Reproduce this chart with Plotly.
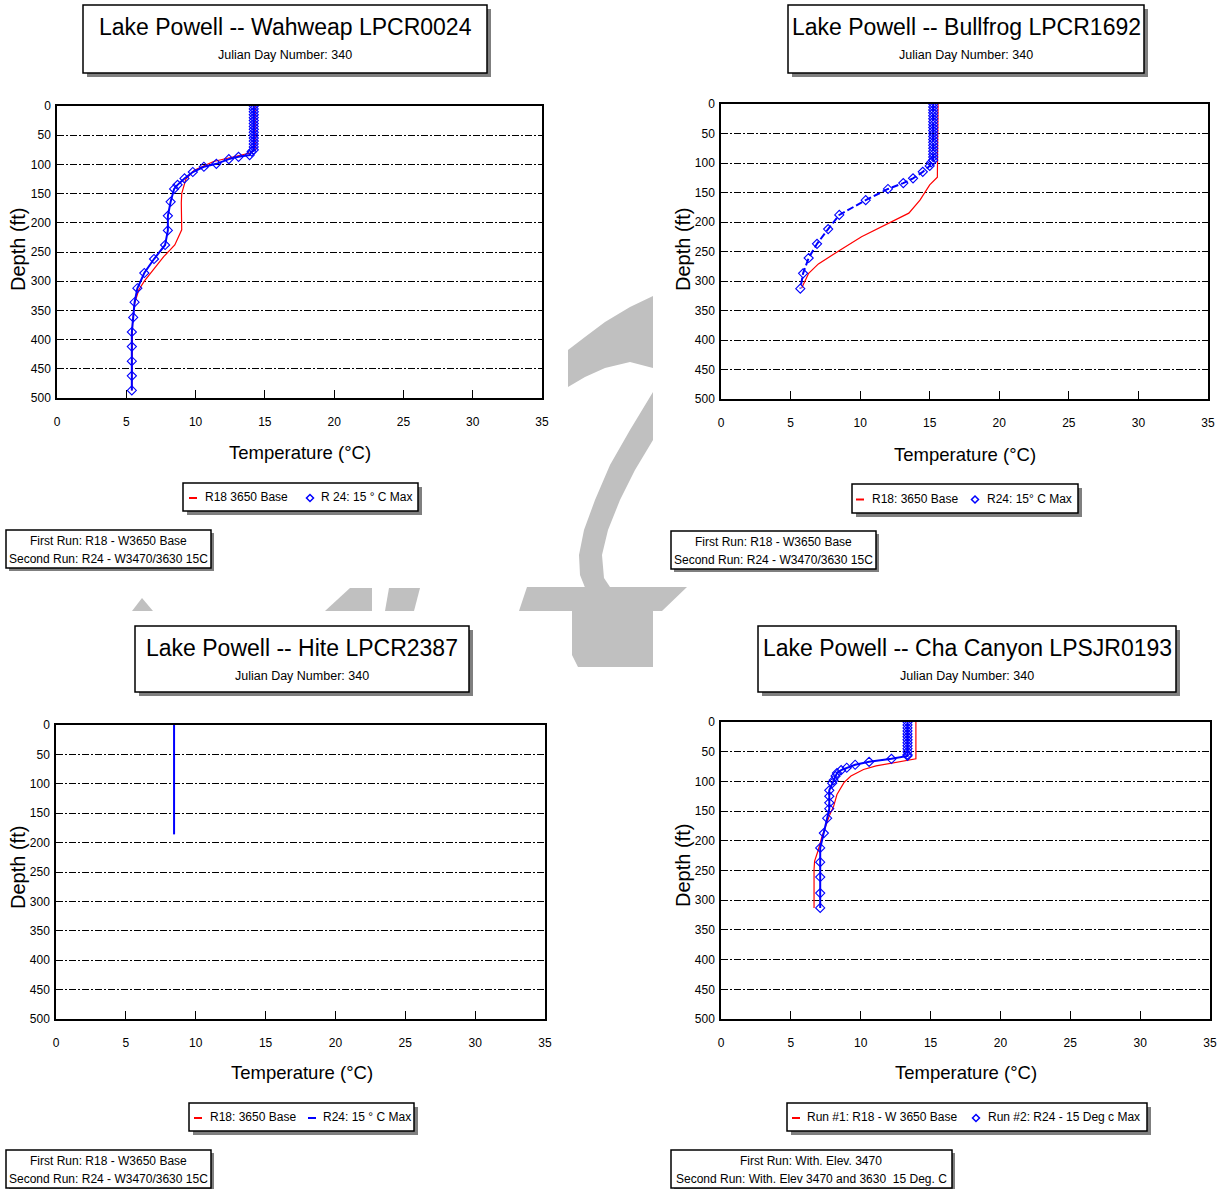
import plotly.graph_objects as go

W, H = 1225, 1189
FONT = "Liberation Sans, Arial, sans-serif"

# ---------------- DATA ----------------
temp_ticks = [0, 5, 10, 15, 20, 25, 30, 35]
depth_ticks = [0, 50, 100, 150, 200, 250, 300, 350, 400, 450, 500]

titles = ["Lake Powell -- Wahweap LPCR0024", "Lake Powell -- Bullfrog LPCR1692",
          "Lake Powell -- Hite LPCR2387", "Lake Powell -- Cha Canyon LPSJR0193"]
subtitle = "Julian Day Number: 340"

legend_r18 = ["R18 3650 Base", "R18: 3650 Base", "R18: 3650 Base", "Run #1: R18 - W 3650 Base"]
legend_r24 = ["R 24: 15 ° C Max", "R24: 15° C Max", "R24: 15 ° C Max", "Run #2: R24 - 15 Deg c Max"]
note_line1 = ["First Run: R18 - W3650 Base", "First Run: R18 - W3650 Base",
              "First Run: R18 - W3650 Base", "First Run: With. Elev. 3470"]
note_line2 = ["Second Run: R24 - W3470/3630 15C", "Second Run: R24 - W3470/3630 15C",
              "Second Run: R24 - W3470/3630 15C", "Second Run: With. Elev 3470 and 3630  15 Deg. C"]

# Wahweap
wah_r18_depth = [0, 75, 80, 88, 95, 110, 125, 150, 166, 212, 238, 258, 280, 300, 315, 338, 372, 487]
wah_r18_temp = [14.3, 14.3, 14.0, 12.6, 11.3, 9.9, 9.3, 9.0, 8.97, 9.0, 8.5, 7.7, 7.0, 6.3, 5.9, 5.6, 5.45, 5.4]
wah_r24_depth = [0, 5, 10, 15, 20, 25, 30, 35, 40, 45, 50, 55, 60, 65, 70, 75, 78, 84, 87, 91, 99, 104,
                 113, 124, 135, 142, 164, 188, 213, 238, 262, 286, 312, 336, 362, 387, 412, 437, 462, 487]
wah_r24_temp = [14.2, 14.2, 14.2, 14.2, 14.2, 14.2, 14.2, 14.2, 14.2, 14.2, 14.2, 14.2, 14.2, 14.2, 14.2,
                14.2, 14.05, 13.9, 13.1, 12.4, 11.5, 10.6, 9.8, 9.2, 8.7, 8.45, 8.2, 8.0, 8.0, 7.8, 7.0,
                6.3, 5.8, 5.6, 5.5, 5.4, 5.4, 5.4, 5.4, 5.4]

# Bullfrog
bul_r18_depth = [0, 120, 124, 137, 163, 185, 205, 212, 225, 247, 263, 271, 287, 301, 312]
bul_r18_temp = [15.6, 15.6, 15.55, 15.0, 14.3, 13.5, 11.8, 11.3, 10.1, 8.6, 7.5, 7.0, 6.3, 6.0, 5.8]
bul_r24_depth = [0, 5, 10, 15, 20, 25, 30, 35, 40, 45, 50, 55, 60, 65, 70, 75, 80, 85, 90, 95, 99, 105,
                 115, 126, 134, 144, 163, 188, 212, 237, 261, 287, 313]
bul_r24_temp = [15.25, 15.25, 15.25, 15.25, 15.25, 15.25, 15.25, 15.25, 15.25, 15.25, 15.25, 15.25, 15.25,
                15.25, 15.25, 15.25, 15.25, 15.25, 15.25, 15.25, 15.1, 15.0, 14.5, 13.8, 13.1, 12.0, 10.4,
                8.5, 7.7, 6.9, 6.3, 5.9, 5.7]

# Hite
hite_r18_depth = []
hite_r18_temp = []
hite_r24_depth = [0, 186]
hite_r24_temp = [8.45, 8.45]

# Cha Canyon
cha_r18_depth = [0, 62, 74, 80, 91, 102, 122, 142, 158, 175, 195, 215, 234, 248, 313]
cha_r18_temp = [13.95, 13.95, 11.1, 10.2, 9.3, 8.8, 8.3, 8.06, 7.75, 7.5, 7.2, 6.97, 6.7, 6.66, 6.66]
cha_r24_depth = [0, 5, 10, 15, 20, 25, 30, 35, 40, 45, 50, 55, 57, 62, 67, 72, 77, 81, 86, 91, 98, 103,
                 115, 125, 136, 146, 162, 187, 212, 236, 261, 288, 313]
cha_r24_temp = [13.35, 13.35, 13.35, 13.35, 13.35, 13.35, 13.35, 13.35, 13.35, 13.35, 13.35, 13.35, 13.35,
                12.2, 10.6, 9.6, 9.0, 8.6, 8.3, 8.2, 8.06, 7.96, 7.75, 7.75, 7.75, 7.75, 7.6, 7.36, 7.1,
                7.1, 7.1, 7.1, 7.1]

# ---------------- LAYOUT GEOMETRY (pixels) ----------------
plot_boxes = [(57, 106, 542, 398), (721, 104, 1208, 399), (56, 725, 545, 1019), (721, 722, 1210, 1019)]
title_boxes = [(83, 5, 487, 73), (788, 5, 1144, 73), (135, 626, 469, 692), (758, 626, 1176, 692)]
legend_boxes = [(183, 483, 418, 511), (852, 484, 1078, 513), (189, 1103, 414, 1131), (787, 1103, 1147, 1131)]
# legend item anchors: (symbol1 x, text1 x, symbol2 x, text2 x)
legend_items = [(193, 203, 310, 319), (860, 870, 975, 985), (198, 208, 312, 321), (796, 805, 976, 986)]
note_boxes = [(6, 530, 211, 568), (671, 531, 876, 569), (6, 1150, 211, 1188), (671, 1150, 952, 1188)]
xtitle_pos = [(300, 452), (965, 454), (302, 1072), (966, 1072)]
ytitle_pos = [(18, 250), (683, 250), (18, 868), (683, 866)]


def fx(x):
    return x / W


def fy(y):
    return 1 - y / H


fig = go.Figure()

series = [
    (wah_r18_temp, wah_r18_depth, wah_r24_temp, wah_r24_depth, "solid", True),
    (bul_r18_temp, bul_r18_depth, bul_r24_temp, bul_r24_depth, "7px,3px", True),
    (hite_r18_temp, hite_r18_depth, hite_r24_temp, hite_r24_depth, "solid", False),
    (cha_r18_temp, cha_r18_depth, cha_r24_temp, cha_r24_depth, "solid", True),
]

for i, (t18, d18, t24, d24, dash, markers) in enumerate(series):
    n = "" if i == 0 else str(i + 1)
    fig.add_trace(go.Scatter(x=t18, y=d18, mode="lines", name=legend_r18[i],
                             line=dict(color="#ff0000", width=1.2),
                             xaxis="x" + n, yaxis="y" + n, showlegend=False))
    fig.add_trace(go.Scatter(x=t24, y=d24, mode="lines+markers" if markers else "lines",
                             name=legend_r24[i],
                             line=dict(color="#0000ff", width=2, dash=dash),
                             marker=dict(symbol="diamond-open", size=7, color="#0000ff",
                                         line=dict(width=1.1, color="#0000ff")),
                             xaxis="x" + n, yaxis="y" + n, showlegend=False))

layout = dict(width=W, height=H, margin=dict(l=0, r=0, t=0, b=0),
              paper_bgcolor="white", plot_bgcolor="white", showlegend=False,
              font=dict(family=FONT, color="black"))

for i, (x0, y0, x1, y1) in enumerate(plot_boxes):
    n = "" if i == 0 else str(i + 1)
    layout["xaxis" + n] = dict(
        domain=[fx(x0), fx(x1)], range=[0, 35], anchor="y" + n,
        tickvals=temp_ticks, ticktext=[str(v) for v in temp_ticks],
        ticks="inside", ticklen=8, tickwidth=1.3, tickcolor="black",
        showgrid=False, zeroline=False, showline=True, linecolor="black", linewidth=1.5,
        mirror=True, tickfont=dict(size=12, family=FONT, color="black"),
        ticklabelstandoff=12, automargin=False, fixedrange=True)
    layout["yaxis" + n] = dict(
        domain=[fy(y1), fy(y0)], range=[500, 0], anchor="x" + n,
        tickvals=depth_ticks, ticktext=[str(v) for v in depth_ticks],
        ticks="", showgrid=True, gridcolor="black", gridwidth=1,
        griddash="7px,2px,2px,2px", zeroline=False, showline=True,
        linecolor="black", linewidth=1.5, mirror=True,
        tickfont=dict(size=12, family=FONT, color="black"),
        ticklabelstandoff=2, automargin=False, fixedrange=True)

shapes = []
annotations = []

# watermark (visible parts only, behind everything else)
WM = "#c0c0c0"
wm_polys = [
    [(653, 296), (630, 307), (605, 322), (585, 337), (568, 350), (568, 387), (585, 377), (605, 368),
     (630, 362), (653, 368)],
    [(653, 392), (630, 430), (610, 465), (595, 500), (584, 530), (579, 555), (580, 575), (586, 590),
     (612, 590), (604, 578), (602, 555), (608, 530), (620, 500), (635, 470), (653, 440)],
    [(519, 611), (527, 587), (687, 587), (662, 611), (653, 611), (653, 667), (578, 667), (572, 655),
     (572, 611)],
    [(132, 611), (142, 598), (153, 611)],
    [(325, 611), (350, 588), (372, 588), (372, 611)],
    [(385, 611), (389, 588), (420, 588), (414, 611)],
]
for poly in wm_polys:
    path = "M " + " L ".join(f"{fx(x):.5f},{fy(y):.5f}" for x, y in poly) + " Z"
    shapes.append(dict(type="path", xref="paper", yref="paper", path=path,
                       fillcolor=WM, line=dict(width=0), layer="below"))


def boxed(x0, y0, x1, y1, off=4):
    shapes.append(dict(type="rect", xref="paper", yref="paper",
                       x0=fx(x0 + off), y0=fy(y1 + off), x1=fx(x1 + off), y1=fy(y0 + off),
                       fillcolor="#7f7f7f", line=dict(width=0), layer="above"))
    shapes.append(dict(type="rect", xref="paper", yref="paper",
                       x0=fx(x0), y0=fy(y1), x1=fx(x1), y1=fy(y0),
                       fillcolor="white", line=dict(color="black", width=1.5), layer="above"))


def text(x, y, s, size, angle=0, anchor="center"):
    annotations.append(dict(x=fx(x), y=fy(y), xref="paper", yref="paper", text=s, showarrow=False,
                            xanchor=anchor, yanchor="middle", textangle=angle,
                            font=dict(size=size, family=FONT, color="black")))


def dash_sym(cx, cy, color):
    shapes.append(dict(type="line", xref="paper", yref="paper",
                       x0=fx(cx - 4), x1=fx(cx + 4), y0=fy(cy), y1=fy(cy),
                       line=dict(color=color, width=2), layer="above"))


def diamond_sym(cx, cy, color, r=3.5):
    pts = [(cx, cy - r), (cx + r, cy), (cx, cy + r), (cx - r, cy)]
    path = "M " + " L ".join(f"{fx(x):.5f},{fy(y):.5f}" for x, y in pts) + " Z"
    shapes.append(dict(type="path", xref="paper", yref="paper", path=path,
                       fillcolor="white", line=dict(color=color, width=1.5), layer="above"))


for i in range(4):
    tx0, ty0, tx1, ty1 = title_boxes[i]
    boxed(tx0, ty0, tx1, ty1)
    cx = (tx0 + tx1) / 2
    text(cx, ty0 + 22, titles[i], 23)
    text(cx, ty0 + 50, subtitle, 12.5)

    lx0, ly0, lx1, ly1 = legend_boxes[i]
    boxed(lx0, ly0, lx1, ly1)
    ly = (ly0 + ly1) / 2
    s1, t1, s2, t2 = legend_items[i]
    dash_sym(s1, ly + 1, "#ff0000")
    text(t1, ly, legend_r18[i], 12, anchor="left")
    if series[i][5]:
        diamond_sym(s2, ly + 1, "#0000ff")
    else:
        dash_sym(s2, ly + 1, "#0000ff")
    text(t2, ly, legend_r24[i], 12, anchor="left")

    nx0, ny0, nx1, ny1 = note_boxes[i]
    boxed(nx0, ny0, nx1, ny1, off=3)
    text((nx0 + nx1) / 2, ny0 + 11, note_line1[i], 12)
    text((nx0 + nx1) / 2, ny0 + 29, note_line2[i], 12)
    text(*xtitle_pos[i], "Temperature (°C)", 18.5)
    text(*ytitle_pos[i], "Depth (ft)", 20, angle=-90)

layout["shapes"] = shapes
layout["annotations"] = annotations
fig.update_layout(**layout)
fig.write_html("out.html")
